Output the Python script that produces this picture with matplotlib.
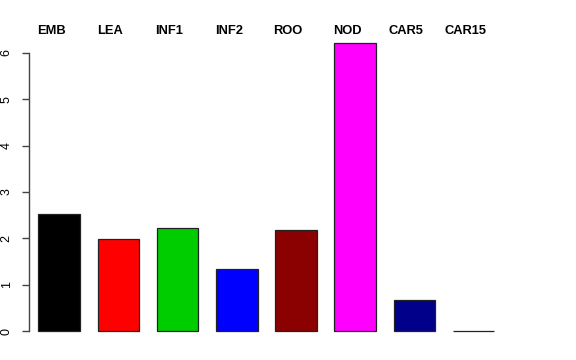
import matplotlib
matplotlib.use("Agg")
import matplotlib.pyplot as plt
import numpy as np

# ============================================================
# DATI
# ============================================================

categories = ["EMB", "LEA", "INF1", "INF2", "ROO", "NOD", "CAR5", "CAR15"]
values = [2.52, 1.99, 2.23, 1.35, 2.175, 6.21, 0.67, 0.0]
colors = ["black", "#FF0000", "#00CD00", "#0000FF", "#8B0000",
          "#FF00FF", "#00008B", "#BEBEBE"]
y_ticks = [0, 1, 2, 3, 4, 5, 6]

# ============================================================
# GRAFICO
# ============================================================

plt.rcParams["font.family"] = ["Liberation Sans", "DejaVu Sans"]

fig = plt.figure(figsize=(5.76, 3.6), dpi=100)
ax = fig.add_axes([28.5 / 576, 17 / 360, 475.5 / 576, 312 / 360])

x = np.arange(len(categories))

ax.bar(
    x,
    values,
    width=0.705,
    color=colors,
    edgecolor="#222222",
    linewidth=0.9,
)

ax.set_xlim(-0.5186, 7.514)
ax.set_ylim(-0.252, 6.468)

for spine in ["top", "right", "bottom"]:
    ax.spines[spine].set_visible(False)

ax.spines["left"].set_bounds(0, 6)
ax.spines["left"].set_color("#444444")
ax.spines["left"].set_linewidth(1.0)

ax.set_xticks([])
ax.set_yticks(y_ticks)
ax.set_yticklabels([str(t) for t in y_ticks], rotation=90, va="center")
ax.tick_params(axis="y", length=5.4, width=1.0, color="#444444",
               pad=6, labelsize=9)

# etichette in alto, sopra ogni barra
for xi, label in zip(x, categories):
    ax.annotate(
        label,
        xy=(xi, 1.0),
        xycoords=("data", "figure fraction"),
        xytext=(-5.8, -34 * 0.72),
        textcoords="offset points",
        ha="center",
        va="baseline",
        fontsize=9.3,
        fontweight="bold",
    )

fig.savefig("out.png", dpi=100)
